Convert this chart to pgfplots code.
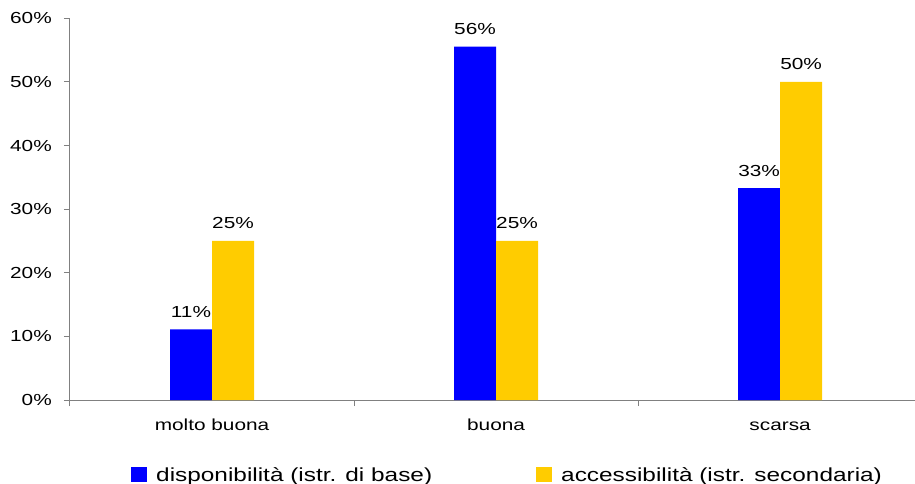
\documentclass[border=0pt]{standalone}
\usepackage{pgfplots}
\pgfplotsset{compat=1.18}
\usepackage{fontspec}
\setmainfont{Liberation Sans}[FakeStretch=1.3]
\newfontfamily\legfont{Liberation Sans}[FakeStretch=1.29]
\definecolor{cblue}{RGB}{0,0,255}
\definecolor{cyel}{RGB}{255,204,0}
\definecolor{axgray}{RGB}{128,128,128}

\pgfplotstableread{
x y lab
0 11.11 11\%
1 55.56 56\%
2 33.33 33\%
}\disp
\pgfplotstableread{
x y lab
0 25 25\%
1 25 25\%
2 50 50\%
}\acc

\begin{document}
\begin{tikzpicture}
\path[use as bounding box] (-70bp,-84bp) rectangle (845bp,400bp);
\begin{axis}[
  at={(0,0)}, anchor=south west,
  scale only axis, width=845bp, height=381.6bp,
  xmin=-0.5, xmax=2.475, ymin=0, ymax=60,
  clip=false,
  axis x line*=bottom, axis y line*=left,
  axis line style={-, draw=axgray, line width=1bp},
  ybar=0pt, bar width=42bp,
  tick align=outside, major tick length=6bp,
  tick style={draw=axgray, line width=1bp},
  xtick={-0.5,0.5,1.5,2.5}, xticklabels={},
  extra x ticks={0,1,2}, extra x tick labels={molto buona,buona,scarsa},
  extra x tick style={major tick length=0pt},
  ytick={0,10,...,60}, yticklabels={0\%,10\%,20\%,30\%,40\%,50\%,60\%},
  tick label style={font=\fontsize{16bp}{19bp}\selectfont},
  xticklabel style={anchor=base, inner sep=0pt, yshift=-30bp},
  yticklabel style={anchor=east, inner sep=0pt, xshift=-12bp},
  point meta=explicit symbolic,
  nodes near coords,
  every node near coord/.append style={font=\fontsize{16bp}{19bp}\selectfont, anchor=base, yshift=12bp, inner sep=0pt},
  legend columns=2,
  legend image code/.code={\fill[#1] (0bp,-7.5bp) rectangle (16bp,7.5bp);},
  legend style={at={(0.0722,-0.1965)}, anchor=west, draw=none, fill=none, inner sep=0pt,
    font=\legfont\fontsize{18.9bp}{22bp}\selectfont,
    nodes={inner sep=0pt},
    column sep=9bp,
    /tikz/every even column/.append style={column sep=104bp}},
  legend cell align=left,
]
\addplot[fill=cblue, draw=none] table[x=x, y=y, meta=lab] {\disp};
\addplot[fill=cyel, draw=none] table[x=x, y=y, meta=lab] {\acc};
\legend{disponibilità (istr. di base), accessibilità (istr. secondaria)}
\end{axis}
\end{tikzpicture}
\end{document}
